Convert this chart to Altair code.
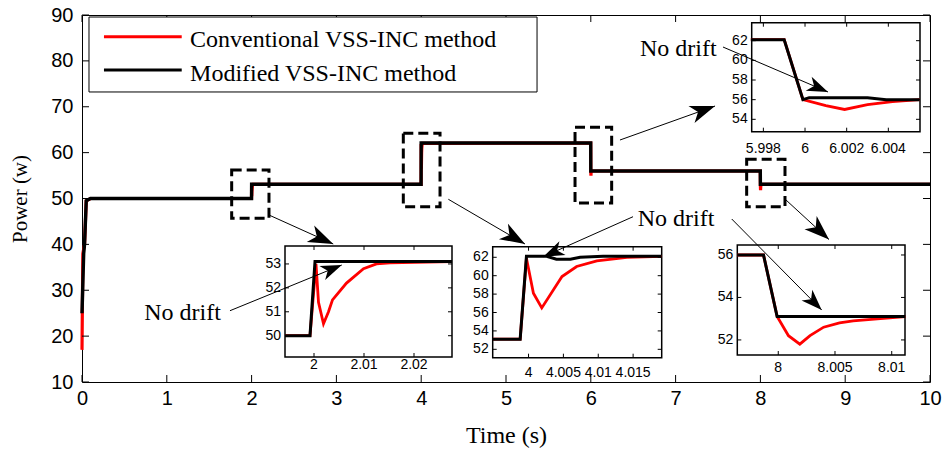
import math
import altair as alt
import pandas as pd

# ---------------- data ----------------
series_names = ["Conventional VSS-INC method", "Modified VSS-INC method"]
series_colors = ["#ff0000", "#000000"]

# full 10 s record
main_t_conv = [0.0, 0.01, 0.03, 0.05, 0.1,
               1.9992, 2.0004, 2.0009, 2.0019, 2.0037, 2.0065, 2.0099, 2.0152,
               3.9988, 3.9997, 4.0007, 4.0019, 4.0048, 4.0069, 4.0098, 4.0141,
               5.999, 5.9999, 6.0010, 6.0019, 6.0030, 6.0042, 6.0055,
               7.9987, 7.9999, 8.0009, 8.0019, 8.0028, 8.0040, 8.0066, 8.0090, 8.0112,
               10.0]
main_p_conv = [17.0, 38.0, 40.0, 49.5, 50.0,
               50.0, 53.0, 51.4, 50.5, 51.5, 52.2, 52.8, 53.1,
               53.1, 61.9, 58.1, 56.5, 59.9, 61.0, 61.6, 62.0,
               62.1, 56.0, 55.4, 55.0, 55.5, 55.8, 56.0,
               56.0, 53.1, 52.2, 51.8, 52.2, 52.6, 52.9, 53.0, 53.1,
               53.1]
main_t_mod = [0.0, 0.02, 0.03, 0.05, 0.1, 1.9992, 2.0002, 3.9988, 3.9997,
              5.999, 5.9999, 7.9987, 7.9999, 10.0]
main_p_mod = [25.0, 38.0, 40.0, 49.5, 50.0, 50.0, 53.1, 53.1, 62.1,
              62.1, 56.0, 56.0, 53.1, 53.1]

# zoomed views
ins1_t_conv = [1.9942, 1.9992, 2.0004, 2.0009, 2.0019, 2.0029, 2.0037, 2.0065, 2.0099, 2.0125, 2.0152, 2.0276]
ins1_p_conv = [50.0, 50.0, 53.0, 51.4, 50.5, 51.0, 51.5, 52.2, 52.8, 53.0, 53.05, 53.1]
ins1_t_mod = [1.9942, 1.9992, 2.0002, 2.0276]
ins1_p_mod = [50.0, 50.0, 53.1, 53.1]

ins2_t_conv = [3.9949, 3.9988, 3.9997, 4.0007, 4.0019, 4.0048, 4.0069, 4.0098, 4.0141, 4.0191]
ins2_p_conv = [53.1, 53.1, 61.9, 58.1, 56.5, 59.9, 61.0, 61.6, 62.0, 62.1]
ins2_t_mod = [3.9949, 3.9988, 3.9997, 4.0026, 4.0040, 4.0060, 4.0074, 4.0107, 4.0191]
ins2_p_mod = [53.1, 53.1, 62.1, 62.1, 61.8, 61.8, 62.0, 62.1, 62.1]

ins3_t_conv = [7.9964, 7.9987, 7.9999, 8.0009, 8.0019, 8.0028, 8.0040, 8.0054, 8.0066, 8.0090, 8.0112]
ins3_p_conv = [56.0, 56.0, 53.1, 52.2, 51.8, 52.2, 52.6, 52.8, 52.9, 53.0, 53.1]
ins3_t_mod = [7.9964, 7.9987, 7.9999, 8.0112]
ins3_p_mod = [56.0, 56.0, 53.1, 53.1]

ins4_t_conv = [5.9974, 5.9990, 5.9999, 6.0010, 6.0019, 6.0030, 6.0042, 6.0055]
ins4_p_conv = [62.1, 62.1, 56.0, 55.4, 55.0, 55.5, 55.8, 56.0]
ins4_t_mod = [5.9974, 5.9990, 5.9999, 6.0002, 6.0030, 6.0039, 6.0055]
ins4_p_mod = [62.1, 62.1, 56.0, 56.2, 56.2, 56.0, 56.0]

# tick values / labels
main_x_ticks = list(range(0, 11))
main_y_ticks = list(range(10, 91, 10))
ins1_x_ticks = ["2", "2.01", "2.02"]
ins1_y_ticks = ["50", "51", "52", "53"]
ins2_x_ticks = ["4", "4.005", "4.01", "4.015"]
ins2_y_ticks = ["52", "54", "56", "58", "60", "62"]
ins3_x_ticks = ["8", "8.005", "8.01"]
ins3_y_ticks = ["52", "54", "56"]
ins4_x_ticks = ["5.998", "6", "6.002", "6.004"]
ins4_y_ticks = ["54", "56", "58", "60", "62"]

# dashed zoom boxes (time, power)
box_t0 = [1.765, 3.789, 5.814, 7.838]
box_t1 = [2.205, 4.222, 6.246, 8.290]
box_p0 = [45.68, 48.21, 49.02, 48.21]
box_p1 = [56.21, 64.21, 65.52, 58.55]

# annotation arrows (tail -> head), main axes units
arrow_t0 = [2.205, 4.320, 8.302, 6.344, 1.745, 6.498, 7.662, 7.559]
arrow_p0 = [46.40, 49.83, 49.67, 62.75, 25.54, 46.03, 45.53, 83.02]
arrow_t1 = [2.963, 5.224, 8.809, 7.465, 3.063, 5.440, 8.723, 8.797]
arrow_p1 = [40.08, 40.08, 41.06, 70.16, 35.50, 37.31, 25.69, 73.22]
arrow_head_len = [25, 25, 25, 25, 21, 21, 21, 21]

note_text = ["No drift", "No drift", "No drift"]
note_t = [1.185, 7.005, 7.032]
note_p = [23.62, 44.0, 81.06]

# legend placement, main axes units
legend_box_t = [0.0825, 5.366]
legend_box_p = [73.22, 89.56]
legend_line_t = [0.259, 1.176]
legend_line_p = [85.27, 78.01]
legend_text_t = 1.274
legend_text_p = [82.92, 75.55]

# ---------------- layout ----------------
FIG_W, FIG_H = 948, 450
PL, PT, PR, PB = 82, 15, 18, 68
W = FIG_W - PL - PR
H = FIG_H - PT - PB
MAIN_XD = [0, 10]
MAIN_YD = [10, 90]

TICK_SHAPE = "M0,0L0,-1"
HEAD_SHAPE = "M0,0L-1,-0.36L-0.72,0L-1,0.36Z"
SANS = "Liberation Sans"
SERIF = "Liberation Serif"


def sc(domain, rng):
    return alt.Scale(domain=list(domain), range=list(rng), nice=False, zero=False)


MAIN_XS = sc(MAIN_XD, [0, W])
MAIN_YS = sc(MAIN_YD, [H, 0])

XAXIS = alt.Axis(values=main_x_ticks, format="d", title="Time (s)", ticks=False, domain=False,
                 grid=False, labelFont=SANS, labelFontSize=20, labelPadding=6, labelColor="black",
                 labelFlush=False, labelOverlap=False, titleFont=SERIF, titleFontSize=24,
                 titleFontWeight="normal", titleColor="black", titlePadding=15)
YAXIS = alt.Axis(values=main_y_ticks, format="d", title="Power (w)", ticks=False, domain=False,
                 grid=False, labelFont=SANS, labelFontSize=20, labelPadding=9, labelColor="black",
                 labelFlush=False, labelOverlap=False, titleFont=SERIF, titleFontSize=21,
                 titleFontWeight="normal", titleColor="black", titlePadding=20)


def mx(f, axis=XAXIS):
    return alt.X(f, type="quantitative", scale=MAIN_XS, axis=axis)


def my(f, axis=YAXIS):
    return alt.Y(f, type="quantitative", scale=MAIN_YS, axis=axis)


# ---------------- main panel ----------------
red_main = alt.Chart(pd.DataFrame({"t": main_t_conv, "p": main_p_conv})).mark_line(
    color=series_colors[0], strokeWidth=3.2).encode(x=mx("t"), y=my("p"))
blk_main = alt.Chart(pd.DataFrame({"t": main_t_mod, "p": main_p_mod})).mark_line(
    color=series_colors[1], strokeWidth=3.4).encode(x=mx("t"), y=my("p"))

box_df = pd.DataFrame({"t0": box_t0, "t1": box_t1, "p0": box_p0, "p1": box_p1})
boxes = alt.Chart(box_df).mark_rect(fillOpacity=0, stroke="black", strokeWidth=3,
                                    strokeDash=[10, 5]).encode(
    x=mx("t0"), x2="t1", y=my("p0"), y2="p1")

mt = []
for v in main_x_ticks:
    mt.append((v, MAIN_YD[0], 0))
    mt.append((v, MAIN_YD[1], 180))
for v in main_y_ticks:
    mt.append((MAIN_XD[0], v, 90))
    mt.append((MAIN_XD[1], v, 270))
main_tick_df = pd.DataFrame(mt, columns=["x", "y", "ang"])
main_ticks = alt.Chart(main_tick_df).mark_point(shape=TICK_SHAPE, size=196, filled=False,
                                                stroke="black", color="black", strokeWidth=1,
                                                opacity=1).encode(
    x=mx("x"), y=my("y"), angle=alt.Angle("ang:Q", scale=None))

# legend (box, line samples, labels)
leg_box = alt.Chart(pd.DataFrame({"a": [legend_box_t[0]], "b": [legend_box_t[1]],
                                  "c": [legend_box_p[0]], "d": [legend_box_p[1]]})).mark_rect(
    fill="white", stroke="black", strokeWidth=1).encode(x=mx("a"), x2="b", y=my("c"), y2="d")
leg_df = pd.DataFrame({"s": series_names, "a": [legend_line_t[0]] * 2, "b": [legend_line_t[1]] * 2,
                       "p": legend_line_p, "tx": [legend_text_t] * 2, "tp": legend_text_p})
leg_color = alt.Color("s:N", scale=alt.Scale(domain=series_names, range=series_colors), legend=None)
leg_lines = alt.Chart(leg_df).mark_rule(strokeWidth=3).encode(
    x=mx("a"), x2="b", y=my("p"), color=leg_color)
leg_text = alt.Chart(leg_df).mark_text(font=SERIF, fontSize=24, align="left", baseline="alphabetic",
                                       color="black").encode(x=mx("tx"), y=my("tp"), text="s:N")

main_group = alt.layer(red_main, blk_main, boxes, main_ticks, leg_box, leg_lines, leg_text)


# ---------------- insets ----------------
def inset(px, xdom, ydom, xt, yt, xdy, t_conv, p_conv, t_mod, p_mod):
    x0, x1, y0, y1 = px
    XS = sc(xdom, [x0 - PL, x1 - PL])
    YS = sc(ydom, [y1 - PT, y0 - PT])

    def X(f):
        return alt.X(f, type="quantitative", scale=XS, axis=None)

    def Y(f):
        return alt.Y(f, type="quantitative", scale=YS, axis=None)

    frame = alt.Chart(pd.DataFrame({"a": [xdom[0]], "b": [xdom[1]], "c": [ydom[0]], "d": [ydom[1]]})
                      ).mark_rect(fill="white", stroke="black", strokeWidth=1.5).encode(
        x=X("a"), x2="b", y=Y("c"), y2="d")
    red = alt.Chart(pd.DataFrame({"t": t_conv, "p": p_conv})).mark_line(
        color=series_colors[0], strokeWidth=2.8).encode(x=X("t"), y=Y("p"))
    blk = alt.Chart(pd.DataFrame({"t": t_mod, "p": p_mod})).mark_line(
        color=series_colors[1], strokeWidth=3).encode(x=X("t"), y=Y("p"))
    rows = []
    for s in xt:
        rows.append((float(s), ydom[0], 0))
        rows.append((float(s), ydom[1], 180))
    for s in yt:
        rows.append((xdom[0], float(s), 90))
        rows.append((xdom[1], float(s), 270))
    tdf = pd.DataFrame(rows, columns=["x", "y", "ang"])
    ticks = alt.Chart(tdf).mark_point(shape=TICK_SHAPE, size=64, filled=False, stroke="black",
                                      color="black", strokeWidth=1, opacity=1).encode(
        x=X("x"), y=Y("y"), angle=alt.Angle("ang:Q", scale=None))
    xl = alt.Chart(pd.DataFrame({"x": [float(s) for s in xt], "y": [ydom[0]] * len(xt), "lab": xt})
                   ).mark_text(font=SANS, fontSize=14, baseline="top", dy=xdy, color="black").encode(
        x=X("x"), y=Y("y"), text="lab:N")
    yl = alt.Chart(pd.DataFrame({"x": [xdom[0]] * len(yt), "y": [float(s) for s in yt], "lab": yt})
                   ).mark_text(font=SANS, fontSize=14, align="right", baseline="middle", dx=-4,
                               color="black").encode(
        x=X("x"), y=Y("y"), text="lab:N")
    return alt.layer(frame, red, blk, ticks, xl, yl)


inset1 = inset((285, 452, 246, 357), (1.9942, 2.0276), (49.11, 53.75), ins1_x_ticks, ins1_y_ticks, 1,
               ins1_t_conv, ins1_p_conv, ins1_t_mod, ins1_p_mod)
inset2 = inset((492.7, 661.7, 246.7, 357.7), (3.99486, 4.0191), (51.09, 63.15), ins2_x_ticks, ins2_y_ticks, 8,
               ins2_t_conv, ins2_p_conv, ins2_t_mod, ins2_p_mod)
inset3 = inset((737.3, 905, 245, 355), (7.99639, 8.01117), (51.29, 56.47), ins3_x_ticks, ins3_y_ticks, 6,
               ins3_t_conv, ins3_p_conv, ins3_t_mod, ins3_p_mod)
inset4 = inset((751.7, 920, 22.7, 131.7), (5.99744, 6.00552), (52.74, 63.83), ins4_x_ticks, ins4_y_ticks, 10,
               ins4_t_conv, ins4_p_conv, ins4_t_mod, ins4_p_mod)

# ---------------- annotations ----------------
kx = W / (MAIN_XD[1] - MAIN_XD[0])
ky = H / (MAIN_YD[1] - MAIN_YD[0])
angs = []
for a, b, c, d in zip(arrow_t0, arrow_p0, arrow_t1, arrow_p1):
    angs.append(math.degrees(math.atan2(-(d - b) * ky, (c - a) * kx)) % 360)
arrow_df = pd.DataFrame({"t0": arrow_t0, "p0": arrow_p0, "t1": arrow_t1, "p1": arrow_p1,
                         "ang": angs, "sz": [(2 * L) ** 2 for L in arrow_head_len]})
shafts = alt.Chart(arrow_df).mark_rule(color="black", strokeWidth=1).encode(
    x=mx("t0", None), x2="t1", y=my("p0", None), y2="p1")
heads = alt.Chart(arrow_df).mark_point(shape=HEAD_SHAPE, filled=True, color="black", opacity=1,
                                       strokeWidth=0).encode(
    x=mx("t1", None), y=my("p1", None), angle=alt.Angle("ang:Q", scale=None),
    size=alt.Size("sz:Q", scale=None))
notes = alt.Chart(pd.DataFrame({"t": note_t, "p": note_p, "txt": note_text})).mark_text(
    font=SERIF, fontSize=24, baseline="alphabetic", align="center", color="black").encode(
    x=mx("t", None), y=my("p", None), text="txt:N")
annot = alt.layer(shafts, heads, notes)

chart = alt.layer(main_group, inset1, inset2, inset3, inset4, annot).resolve_scale(
    x="independent", y="independent"
).properties(
    width=W, height=H,
    autosize=alt.AutoSizeParams(type="none"),
    padding={"left": PL, "top": PT, "right": PR, "bottom": PB},
    background="white",
).configure_view(stroke="black", strokeWidth=1)

chart.save("out.html", embed_options={"renderer": "svg", "actions": False})
